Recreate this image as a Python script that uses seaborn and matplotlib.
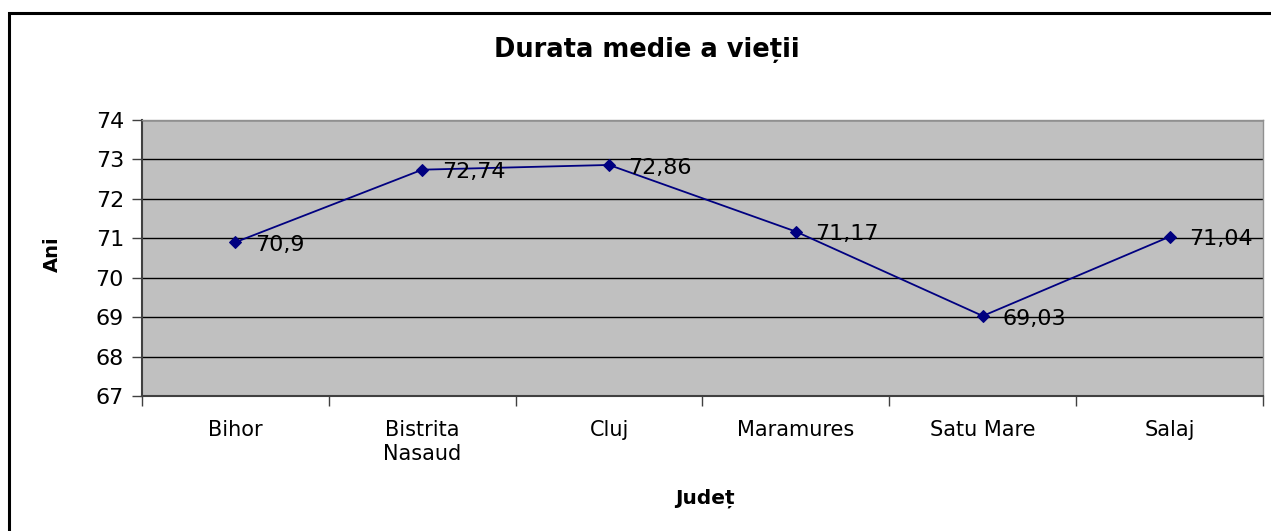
import pandas as pd
import matplotlib
matplotlib.use('Agg')
import matplotlib.pyplot as plt
import seaborn as sns
from matplotlib.patches import Rectangle

judete = ['Bihor', 'Bistrita\nNasaud', 'Cluj', 'Maramures', 'Satu Mare', 'Salaj']
durata = [70.9, 72.74, 72.86, 71.17, 69.03, 71.04]
y_ticks = [67, 68, 69, 70, 71, 72, 73, 74]

sns.set_style('white')
plt.rcParams['font.family'] = ['DejaVu Sans']
plt.rcParams['text.color'] = 'black'
plt.rcParams['xtick.color'] = 'black'
plt.rcParams['ytick.color'] = 'black'

df = pd.DataFrame({'judet': judete, 'ani': durata, 'pos': range(len(judete))})

fig = plt.figure(figsize=(12.71, 5.31), dpi=100)
ax = fig.add_axes([142 / 1271, 1 - 396 / 531, 1121 / 1271, 276 / 531])
ax.set_facecolor('#c0c0c0')

sns.lineplot(data=df, x='pos', y='ani', ax=ax, color='#000080', linewidth=1.3,
             marker='D', markersize=6.5, markeredgecolor='#000080')

for _, row in df.iterrows():
    ax.annotate(f"{row['ani']:g}".replace('.', ','), (row['pos'], row['ani']),
                xytext=(14, -2), textcoords='offset points', va='center', ha='left',
                fontsize=16, color='black')

ax.set_ylim(67, 74)
ax.set_yticks(y_ticks)
ax.set_yticklabels([str(v) for v in y_ticks], fontsize=16)
ax.yaxis.grid(True, color='black', linewidth=1)
ax.set_axisbelow(True)
ax.tick_params(axis='y', direction='out', length=7, width=1, color='#404040', pad=6, left=True)

ax.set_xlim(-0.5, len(judete) - 0.5)
ax.set_xticks([i - 0.5 for i in range(len(judete) + 1)])
ax.set_xticklabels([])
ax.set_xticks(range(len(judete)), minor=True)
ax.set_xticklabels(judete, minor=True, fontsize=15, linespacing=1.3)
ax.tick_params(axis='x', which='major', direction='out', length=7, width=1, color='#404040', bottom=True)
ax.tick_params(axis='x', which='minor', length=0, pad=17)

for side in ['left', 'bottom']:
    ax.spines[side].set_color('#404040')
    ax.spines[side].set_linewidth(1.5)
for side in ['top', 'right']:
    ax.spines[side].set_color('#909090')
    ax.spines[side].set_linewidth(1)

ax.set_xlabel('')
ax.set_ylabel('')
fig.text(52 / 1271, 1 - 254 / 531, 'Ani', rotation=90, fontsize=14, fontweight='bold',
         ha='center', va='center')
fig.text(705 / 1271, 1 - 498 / 531, 'Județ', fontsize=14.5, fontweight='bold',
         ha='center', va='center')
fig.text(647 / 1271, 1 - 50 / 531, 'Durata medie a vieții', fontsize=18.5, fontweight='bold',
         ha='center', va='center')

fig.patches.append(Rectangle((9 / 1271, -0.1), 1.2, (1 - 13 / 531) + 0.1,
                             transform=fig.transFigure, fill=False,
                             edgecolor='black', linewidth=2.2))

plt.savefig('out.png', dpi=100)
